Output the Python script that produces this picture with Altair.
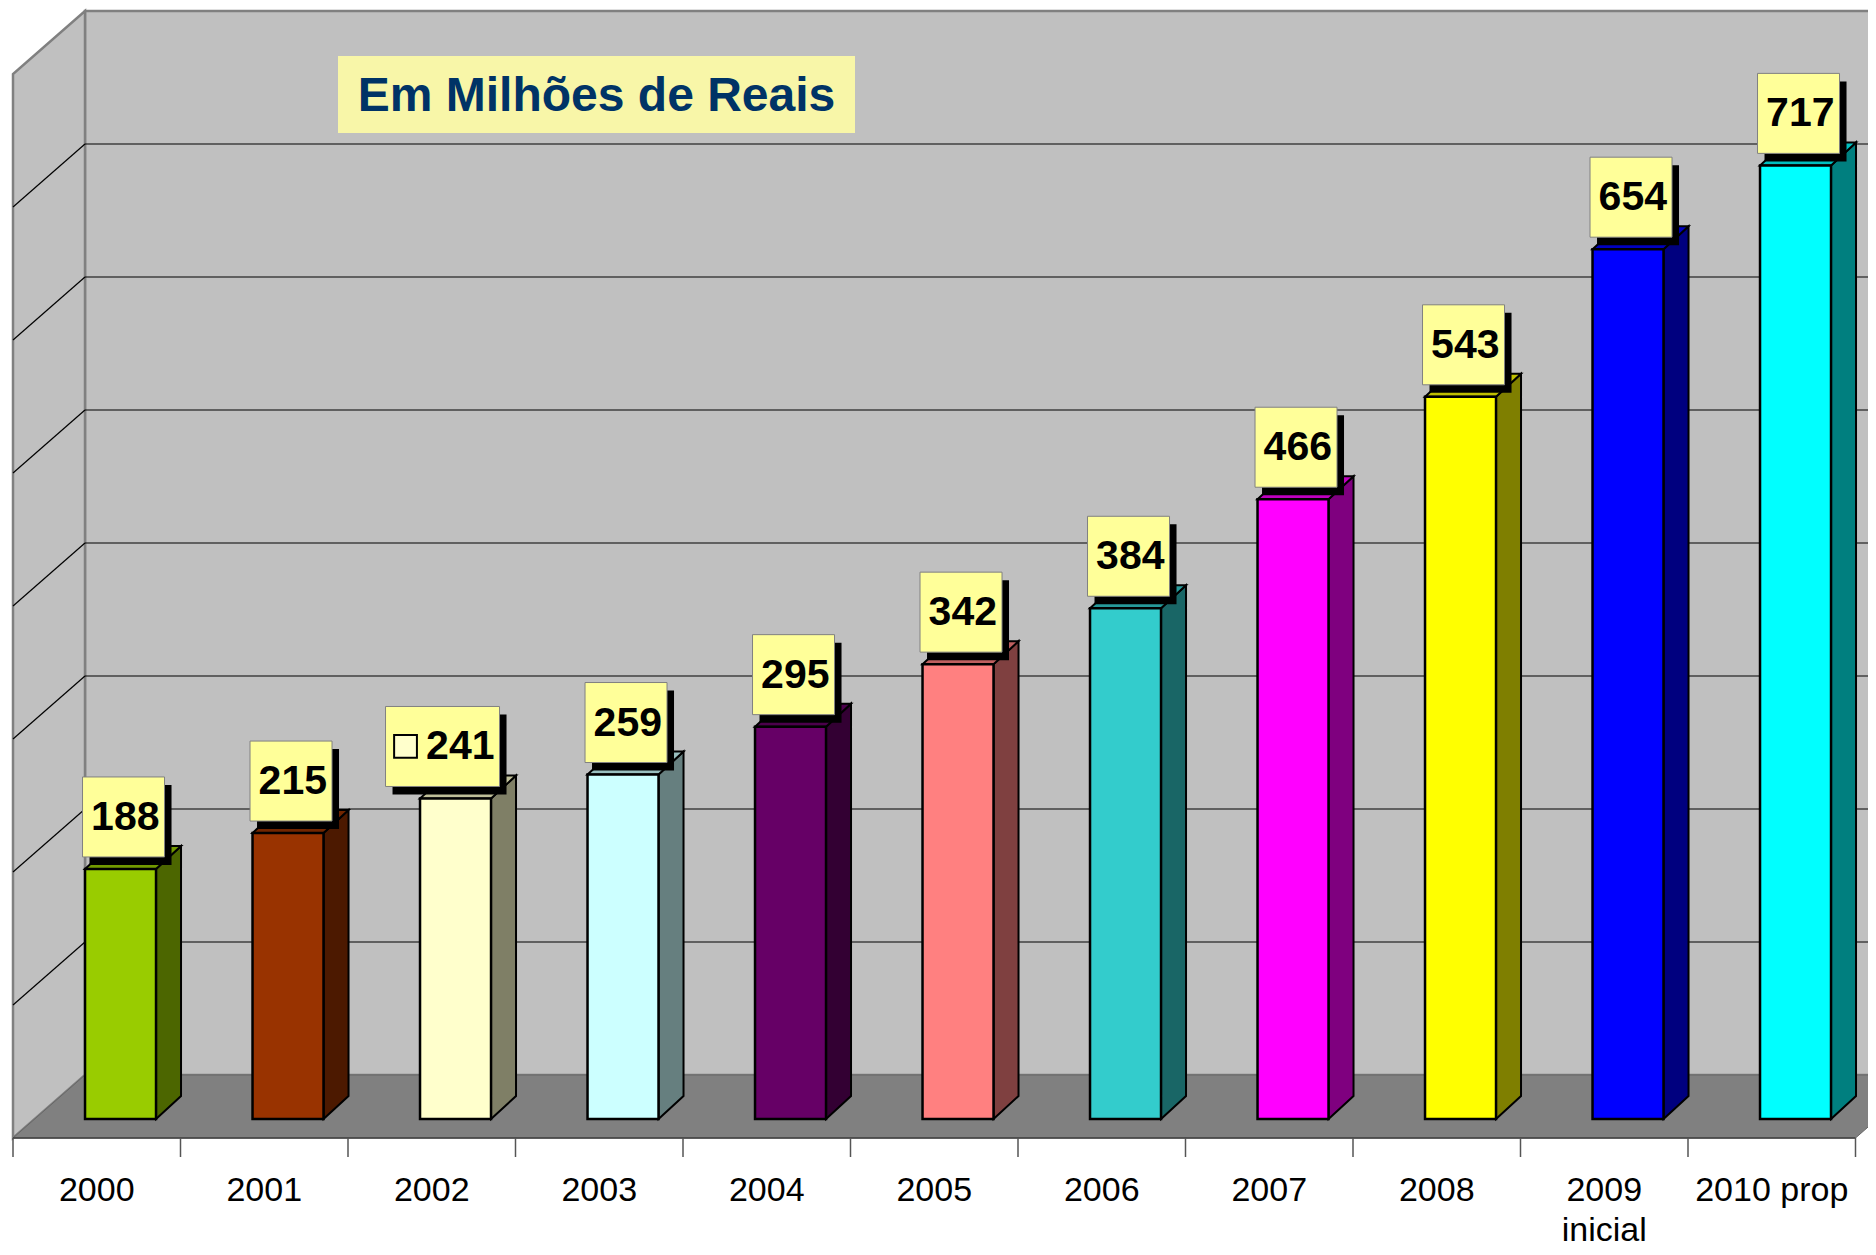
import altair as alt
import pandas as pd

# ---------------- data ----------------
categories = ["2000", "2001", "2002", "2003", "2004", "2005", "2006", "2007", "2008", "2009\ninicial", "2010 prop"]
values = [188, 215, 241, 259, 295, 342, 384, 466, 543, 654, 717]
front_colors = ["#99CC00", "#993300", "#FFFFCC", "#CCFFFF", "#660066", "#FF8080",
                "#33CCCC", "#FF00FF", "#FFFF00", "#0000FF", "#00FFFF"]
label_has_key = [False, False, True, False, False, False, False, False, False, False, False]
gridlines = [100, 200, 300, 400, 500, 600, 700]
wall_top = 800
title_text = "Em Milhões de Reais"

# ---------------- geometry / style ----------------
W, H = 1860, 1239
KX = 167.5   # px per category
KY = 1.33    # px per unit
XD = [-88.75 / KX, (W - 88.75) / KX]
YD = [(1111 - H) / KY, 1111 / KY]

def px_x(p):
    return p / KX

def px_y(p):
    return p / KY

floor_front = px_y(-19)          # front edge of floor
floor_dx, floor_dy = px_x(72), px_y(63)
wall_zero = floor_front + floor_dy
bar_left_off, bar_w = -0.07, px_x(71)
bar_dx, bar_dy = px_x(25), px_y(23)

def shade(hexc, f):
    h = hexc.lstrip("#")
    r, g, b = (int(h[i:i + 2], 16) for i in (0, 2, 4))
    return "#%02X%02X%02X" % (int(r * f), int(g * f), int(b * f))

xs = alt.Scale(domain=XD, nice=False, zero=False)
ys = alt.Scale(domain=YD, nice=False, zero=False)

def X(f):
    return alt.X(f, type="quantitative", scale=xs, axis=None)

def Y(f):
    return alt.Y(f, type="quantitative", scale=ys, axis=None)

n = len(values)

# ---------------- walls & floor ----------------
back_wall = pd.DataFrame({"x": [-0.5 + floor_dx], "x2": [XD[1] + 1], "y": [wall_zero], "y2": [wall_zero + wall_top]})
back = alt.Chart(back_wall).mark_rect(fill="#C0C0C0", stroke="#808080", strokeWidth=2.5, clip=True).encode(
    x=X("x"), x2="x2", y=Y("y"), y2="y2")

side_wall = pd.DataFrame({"x": [-0.5, -0.5 + floor_dx],
                          "y": [floor_front, wall_zero],
                          "y2": [floor_front + wall_top, wall_zero + wall_top]})
side = alt.Chart(side_wall).mark_area(fill="#C0C0C0", stroke="#808080", strokeWidth=2.5, clip=True).encode(
    x=X("x"), y=Y("y"), y2="y2")

grid_back = pd.DataFrame({"y": [wall_zero + g for g in gridlines], "x": -0.5 + floor_dx, "x2": XD[1]})
gb = alt.Chart(grid_back).mark_rule(color="#000000", strokeWidth=1.2, clip=True).encode(
    x=X("x"), x2="x2", y=Y("y"))
grid_side = pd.DataFrame({"x": -0.5, "x2": -0.5 + floor_dx,
                          "y": [floor_front + g for g in gridlines],
                          "y2": [wall_zero + g for g in gridlines]})
gs = alt.Chart(grid_side).mark_rule(color="#000000", strokeWidth=1.2, clip=True).encode(
    x=X("x"), x2="x2", y=Y("y"), y2="y2")

floor_df = pd.DataFrame({"y": [floor_front, wall_zero],
                         "x": [-0.5, -0.5 + floor_dx],
                         "x2": [n - 0.5, n - 0.5 + floor_dx]})
floor = alt.Chart(floor_df).mark_area(orient="horizontal", fill="#808080", stroke="#666666",
                                      strokeWidth=1, clip=True).encode(
    y=Y("y"), x=X("x"), x2="x2")

axis_line = alt.Chart(pd.DataFrame({"x": [-0.5], "x2": [n - 0.5], "y": [floor_front]})).mark_rule(
    color="#404040", strokeWidth=1.5, clip=True).encode(x=X("x"), x2="x2", y=Y("y"))
ticks_df = pd.DataFrame({"x": [i - 0.5 for i in range(n + 1)], "y": floor_front, "y2": floor_front - px_y(19)})
ticks = alt.Chart(ticks_df).mark_rule(color="#555555", strokeWidth=1.5, clip=True).encode(
    x=X("x"), y=Y("y"), y2="y2")

# ---------------- bars ----------------
front_rows, side_rows, top_rows = [], [], []
for i, (v, c) in enumerate(zip(values, front_colors)):
    l = i + bar_left_off
    r = l + bar_w
    front_rows.append({"id": i, "x": l, "x2": r, "y": 0, "y2": v, "fill": c})
    side_rows += [{"id": i, "x": r, "y": 0, "y2": v, "fill": shade(c, 0.5)},
                  {"id": i, "x": r + bar_dx, "y": bar_dy, "y2": v + bar_dy, "fill": shade(c, 0.5)}]
    top_rows += [{"id": i, "y": v, "x": l, "x2": r, "fill": shade(c, 0.75)},
                 {"id": i, "y": v + bar_dy, "x": l + bar_dx, "x2": r + bar_dx, "fill": shade(c, 0.75)}]

bar_side = alt.Chart(pd.DataFrame(side_rows)).mark_area(stroke="#000000", strokeWidth=2, strokeJoin="miter").encode(
    x=X("x"), y=Y("y"), y2="y2", detail="id:N", fill=alt.Fill("fill:N", scale=None))
bar_top = alt.Chart(pd.DataFrame(top_rows)).mark_area(orient="horizontal", stroke="#000000", strokeWidth=2,
                                                      strokeJoin="miter").encode(
    y=Y("y"), x=X("x"), x2="x2", detail="id:N", fill=alt.Fill("fill:N", scale=None))
bar_front = alt.Chart(pd.DataFrame(front_rows)).mark_rect(stroke="#000000", strokeWidth=2.5).encode(
    x=X("x"), x2="x2", y=Y("y"), y2="y2", fill=alt.Fill("fill:N", scale=None))

# ---------------- data labels ----------------
box_rows, key_rows = [], []
for i, (v, k, c) in enumerate(zip(values, label_has_key, front_colors)):
    cx = i + bar_left_off + bar_w / 2 + px_x(3)
    bl = cx - px_x(41) - (px_x(32) if k else 0)
    br = cx + px_x(41)
    bb = v + px_y(12)
    bt = bb + px_y(80)
    box_rows.append({"x": bl, "x2": br, "y": bb, "y2": bt,
                     "sx": bl + px_x(7), "sx2": br + px_x(7), "sy": bb - px_y(8), "sy2": bt - px_y(8),
                     "tx": br - px_x(5), "ty": (bb + bt) / 2, "label": str(v)})
    if k:
        key_rows.append({"x": bl + px_x(20), "y": (bb + bt) / 2, "fill": c})
boxes = pd.DataFrame(box_rows)
shadow = alt.Chart(boxes).mark_rect(fill="#000000").encode(x=X("sx"), x2="sx2", y=Y("sy"), y2="sy2")
box = alt.Chart(boxes).mark_rect(fill="#FFFF99", stroke="#808080", strokeWidth=1).encode(
    x=X("x"), x2="x2", y=Y("y"), y2="y2")
box_text = alt.Chart(boxes).mark_text(align="right", baseline="middle",
                                      font="Liberation Sans Narrow, Arial Narrow, Liberation Sans",
                                      fontWeight="bold", fontSize=41, color="#000000", dy=1).encode(
    x=X("tx"), y=Y("ty"), text="label:N")
keys = alt.Chart(pd.DataFrame(key_rows)).mark_point(shape="square", size=520, filled=True,
                                                     stroke="#000000", strokeWidth=2, opacity=1).encode(
    x=X("x"), y=Y("y"), fill=alt.Fill("fill:N", scale=None))

# ---------------- category labels ----------------
cat_rows = []
for i, c in enumerate(categories):
    for j, part in enumerate(c.split("\n")):
        cat_rows.append({"x": i, "label": part, "y": px_y(1111 - 1193 - 40 * j)})
cats = alt.Chart(pd.DataFrame(cat_rows)).mark_text(align="center", baseline="alphabetic", font="Liberation Sans",
                                                    fontSize=34, color="#000000").encode(
    x=X("x"), y=Y("y"), text="label:N")

# ---------------- title box ----------------
tb = pd.DataFrame({"x": [(338 - 96.75) / KX], "x2": [(855 - 96.75) / KX],
                   "y": [(1111 - 125) / KY], "y2": [(1111 - 48) / KY], "label": [title_text]})
tb["tx"] = (tb["x"] + tb["x2"]) / 2
tb["ty"] = (tb["y"] + tb["y2"]) / 2
title_box = alt.Chart(tb).mark_rect(fill="#F8F6A8").encode(x=X("x"), x2="x2", y=Y("y"), y2="y2")
title = alt.Chart(tb).mark_text(align="center", baseline="middle", font="Liberation Sans", fontWeight="bold",
                                fontSize=48, color="#003366", dy=2).encode(x=X("tx"), y=Y("ty"), text="label:N")

chart = alt.layer(back, side, gb, gs, title_box, title, floor, axis_line, ticks,
                  bar_side, bar_top, bar_front, shadow, box, box_text, keys, cats).properties(
    width=W, height=H, padding=0, autosize=alt.AutoSizeParams(type="none"), background="#FFFFFF"
).configure_view(stroke=None)

chart.save("out.html", embed_options={"renderer": "svg", "actions": False})
